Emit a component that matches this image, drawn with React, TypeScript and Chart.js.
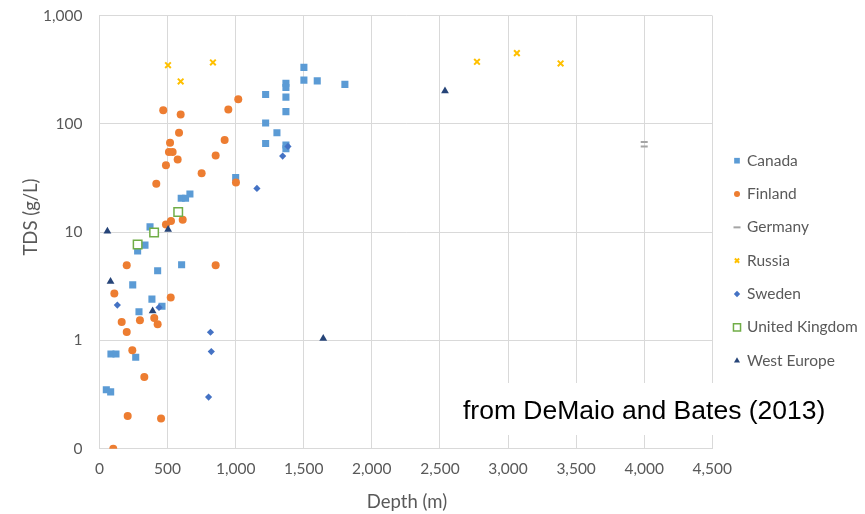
import React, { useEffect, useRef } from 'react';
import { Chart, registerables } from 'chart.js';
import { drawPoint } from 'chart.js/helpers';

Chart.register(...registerables);

// Depth (m), TDS (g/L)
const canada: [number, number][] = [
  [1501, 333], [1501, 254], [1599, 250], [1802, 232], [1369, 238], [1369, 217],
  [1220, 187], [1369, 177], [1369, 130], [1220, 102], [1303, 83], [1220, 66],
  [1369, 64], [1369, 59], [1000, 32], [664, 22.5], [600, 20.6], [632, 20.6],
  [371, 11.2], [334, 7.6], [280, 6.7], [427, 4.4], [603, 5.0], [244, 3.26],
  [385, 2.41], [290, 1.84], [459, 2.07], [84, 0.75], [121, 0.75], [266, 0.7],
  [50, 0.35], [82, 0.335],
];
const finland: [number, number][] = [
  [1019, 169], [468, 134], [596, 122], [946, 136], [584, 83], [919, 71],
  [518, 67], [510, 55], [537, 55], [574, 47], [853, 51], [488, 41.6],
  [750, 35], [417, 28], [1002, 28.8], [611, 13], [525, 12.7], [488, 11.8],
  [200, 4.95], [853, 4.95], [109, 2.72], [523, 2.49], [163, 1.48], [297, 1.54],
  [402, 1.61], [427, 1.41], [200, 1.2], [241, 0.81], [329, 0.46], [207, 0.2],
  [452, 0.19], [101, 0.1],
];
const germany: [number, number][] = [[4000, 68], [4000, 62]];
const russia: [number, number][] = [
  [503, 349], [596, 247], [833, 370], [2772, 375], [3065, 451], [3386, 362],
];
const sweden: [number, number][] = [
  [1384, 62], [1345, 50.5], [1156, 25.4], [131, 2.12], [437, 2.02], [815, 1.19],
  [821, 0.79], [801, 0.3],
];
const unitedKingdom: [number, number][] = [[578, 15.4], [401, 9.95], [280, 7.7]];
const westEurope: [number, number][] = [
  [58, 10.2], [504, 10.6], [81, 3.5], [390, 1.87], [1643, 1.04], [2537, 202],
];

const xTicks = [0, 500, 1000, 1500, 2000, 2500, 3000, 3500, 4000, 4500];
const yTicks = [0.1, 1, 10, 100, 1000];
const xTitle = 'Depth (m)';
const yTitle = 'TDS (g/L)';
const noteText = 'from DeMaio and Bates (2013)';

const toPts = (arr: [number, number][]) => arr.map(([x, y]) => ({ x, y }));

const FONT = 'Lato, "Open Sans", sans-serif';
const TEXT = '#595959';
const GRID = '#D9D9D9';

export default function App() {
  const ref = useRef<HTMLCanvasElement | null>(null);

  useEffect(() => {
    if (!ref.current) return;

    const mk = (label: string, data: [number, number][], style: any, order: number) => ({
      label,
      data: toPts(data),
      order,
      showLine: false,
      pointHoverRadius: style.pointRadius,
      ...style,
    });

    const datasets: any[] = [
      mk('Canada', canada, { pointStyle: 'rect', pointRadius: 5, backgroundColor: '#5B9BD5', borderColor: '#5B9BD5', pointBorderWidth: 0, legendRadius: 4 }, 6),
      mk('Finland', finland, { pointStyle: 'circle', pointRadius: 4, backgroundColor: '#ED7D31', borderColor: '#ED7D31', pointBorderWidth: 0, legendRadius: 3 }, 5),
      mk('Germany', germany, { pointStyle: 'line', pointRadius: 3.5, backgroundColor: '#A5A5A5', borderColor: '#A5A5A5', pointBorderWidth: 2, legendRadius: 3.5 }, 4),
      mk('Russia', russia, { pointStyle: 'crossRot', pointRadius: 4, backgroundColor: '#FFC000', borderColor: '#FFC000', pointBorderWidth: 2, legendRadius: 3 }, 3),
      mk('Sweden', sweden, { pointStyle: 'rectRot', pointRadius: 3.6, backgroundColor: '#4472C4', borderColor: '#4472C4', pointBorderWidth: 0, legendRadius: 3.2 }, 2),
      mk('United Kingdom', unitedKingdom, { pointStyle: 'rect', pointRadius: 6, backgroundColor: '#FFFFFF', borderColor: '#70AD47', pointBorderWidth: 1.5, legendRadius: 5 }, 1),
      mk('West Europe', westEurope, { pointStyle: 'triangle', pointRadius: 4.5, backgroundColor: '#264478', borderColor: '#264478', pointBorderWidth: 0, legendRadius: 3.5 }, 0),
    ];

    const overlay = {
      id: 'overlay',
      afterDraw(chart: any) {
        const ctx: CanvasRenderingContext2D = chart.ctx;
        ctx.save();
        // note box
        ctx.fillStyle = '#FFFFFF';
        ctx.fillRect(450, 383, 390, 52);
        ctx.fillStyle = '#000000';
        ctx.font = '26.5px "Liberation Sans", Arial, sans-serif';
        ctx.textAlign = 'left';
        ctx.textBaseline = 'alphabetic';
        ctx.fillText(noteText, 463, 419);

        // legend
        chart.data.datasets.forEach((ds: any, i: number) => {
          const y = 160.7 + i * 33.33;
          ctx.save();
          ctx.fillStyle = ds.backgroundColor;
          ctx.strokeStyle = ds.borderColor;
          ctx.lineWidth = ds.pointBorderWidth;
          drawPoint(ctx, { pointStyle: ds.pointStyle, radius: ds.legendRadius, rotation: 0, borderWidth: ds.pointBorderWidth } as any, 737, y);
          ctx.restore();
          ctx.fillStyle = TEXT;
          ctx.font = '15.5px ' + FONT;
          ctx.textAlign = 'left';
          ctx.textBaseline = 'middle';
          ctx.fillText(ds.label, 747, y);
        });

        // axis titles
        ctx.fillStyle = TEXT;
        ctx.font = '18.5px ' + FONT;
        ctx.textAlign = 'center';
        ctx.textBaseline = 'alphabetic';
        ctx.fillText(xTitle, 407, 508);
        ctx.translate(37, 217);
        ctx.rotate(-Math.PI / 2);
        ctx.fillText(yTitle, 0, 0);
        ctx.restore();
      },
    };

    const chart = new Chart(ref.current, {
      type: 'scatter',
      data: { datasets },
      options: {
        animation: false,
        responsive: false,
        events: [],
        layout: { padding: { left: 0, top: 15.7, right: 152.7, bottom: 0 } },
        plugins: {
          legend: { display: false },
          tooltip: { enabled: false },
        },
        scales: {
          x: {
            type: 'linear',
            min: 0,
            max: 4500,
            afterBuildTicks: (scale: any) => {
              scale.ticks = xTicks.map((value) => ({ value }));
            },
            afterFit: (scale: any) => {
              scale.height = 514 - 448.7;
            },
            ticks: {
              autoSkip: false,
              maxRotation: 0,
              padding: 11,
              color: TEXT,
              font: { family: FONT, size: 15.5 },
              callback: (v: any) => Number(v).toLocaleString('en-US'),
            },
            grid: { color: GRID, lineWidth: 1, drawTicks: false },
            border: { color: GRID, width: 1 },
          },
          y: {
            type: 'logarithmic',
            min: 0.1,
            max: 1000,
            afterBuildTicks: (scale: any) => {
              scale.ticks = yTicks.map((value) => ({ value }));
            },
            afterFit: (scale: any) => {
              scale.width = 99.5;
              scale.paddingTop = 0;
              scale.paddingBottom = 0;
            },
            ticks: {
              autoSkip: false,
              padding: 17,
              color: TEXT,
              font: { family: FONT, size: 15.5 },
              callback: (v: any) => (Number(v) < 0.5 ? '0' : Number(v).toLocaleString('en-US')),
            },
            grid: { color: GRID, lineWidth: 1, drawTicks: false },
            border: { color: GRID, width: 1 },
          },
        },
      },
      plugins: [overlay],
    });

    return () => chart.destroy();
  }, []);

  return (
    <div style={{ position: 'absolute', left: 0, top: 0, width: 865, height: 514, background: '#FFFFFF' }}>
      <canvas ref={ref} width={865} height={514} style={{ display: 'block', width: 865, height: 514 }} />
    </div>
  );
}
